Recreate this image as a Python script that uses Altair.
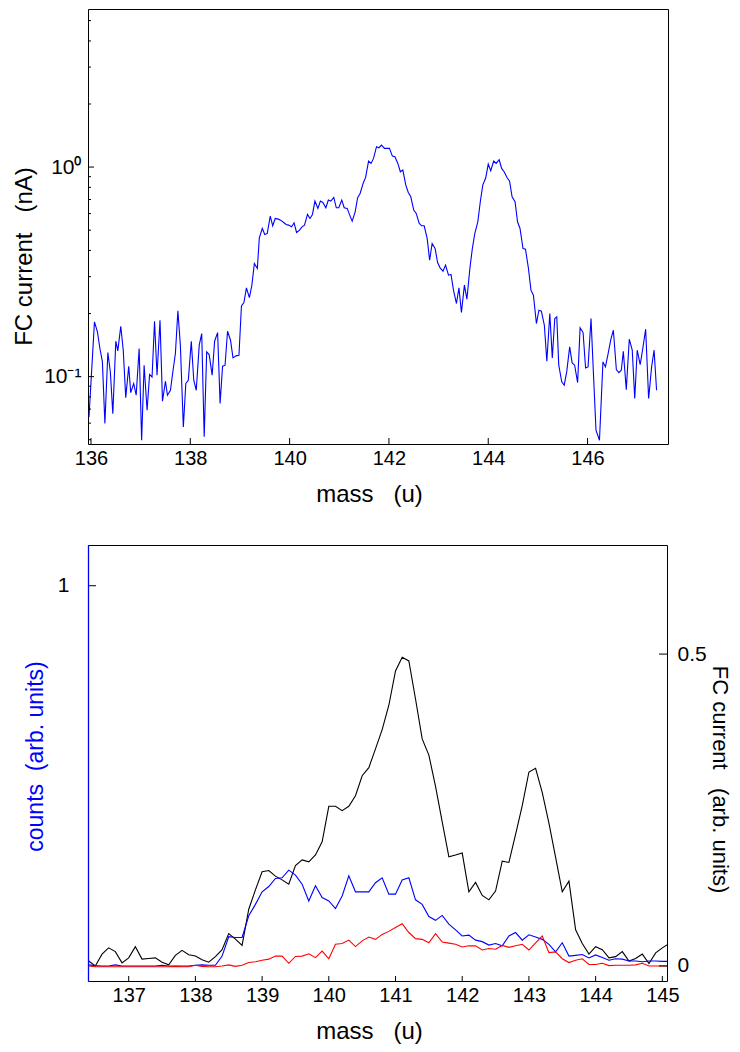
import altair as alt
import pandas as pd

FONT = "Liberation Sans"

# ---------------- top panel data (FC current, nA, log scale) ----------------
top_mass = [
    135.96, 136.07, 136.13, 136.18, 136.23, 136.28, 136.34, 136.39, 136.44, 136.50,
    136.54, 136.60, 136.65, 136.70, 136.76, 136.80, 136.86, 136.91, 136.97, 137.02,
    137.07, 137.13, 137.18, 137.23, 137.28, 137.33, 137.39, 137.44, 137.50, 137.54,
    137.60, 137.65, 137.70, 137.75, 137.80, 137.86, 137.91, 137.96, 138.02, 138.07,
    138.12, 138.18, 138.23, 138.28, 138.33, 138.38, 138.44, 138.49, 138.55, 138.60,
    138.65, 138.70, 138.75, 138.81, 138.86, 138.92, 138.98, 139.03, 139.08, 139.13,
    139.19, 139.24, 139.29, 139.35, 139.39, 139.45, 139.50, 139.55, 139.61, 139.66,
    139.71, 139.77, 139.82, 139.88, 139.93, 139.98, 140.04, 140.09, 140.14, 140.20,
    140.25, 140.30, 140.36, 140.41, 140.46, 140.51, 140.57, 140.62, 140.67, 140.73,
    140.78, 140.83, 140.89, 140.94, 140.99, 141.05, 141.10, 141.16, 141.21, 141.26,
    141.32, 141.37, 141.42, 141.48, 141.53, 141.59, 141.64, 141.69, 141.75, 141.80,
    141.85, 141.91, 141.96, 142.01, 142.07, 142.12, 142.18, 142.23, 142.28, 142.34,
    142.39, 142.44, 142.50, 142.55, 142.61, 142.66, 142.71, 142.77, 142.82, 142.87,
    142.93, 142.98, 143.03, 143.09, 143.14, 143.20, 143.25, 143.30, 143.36, 143.41,
    143.46, 143.52, 143.57, 143.63, 143.68, 143.73, 143.79, 143.84, 143.89, 143.95,
    144.00, 144.05, 144.11, 144.16, 144.22, 144.27, 144.32, 144.38, 144.43, 144.48,
    144.54, 144.59, 144.64, 144.70, 144.75, 144.81, 144.86, 144.91, 144.97, 145.02,
    145.07, 145.13, 145.18, 145.24, 145.29, 145.34, 145.38, 145.42, 145.48, 145.53,
    145.58, 145.64, 145.69, 145.74, 145.80, 145.85, 145.91, 145.96, 146.01, 146.07,
    146.12, 146.17, 146.24, 146.31, 146.36, 146.41, 146.47, 146.52, 146.58, 146.63,
    146.68, 146.72, 146.78, 146.84, 146.90, 146.95, 147.00, 147.06, 147.11, 147.17,
    147.23, 147.29, 147.34, 147.39,
]
top_fc = [
    0.0642, 0.1825, 0.1635, 0.1362, 0.1176, 0.0597, 0.1303, 0.1053, 0.0666, 0.1476,
    0.1327, 0.1740, 0.1337, 0.0794, 0.1121, 0.0839, 0.0927, 0.0815, 0.1362, 0.0497,
    0.1134, 0.0691, 0.1023, 0.0997, 0.1839, 0.1016, 0.1859, 0.0763, 0.0951, 0.0815,
    0.0861, 0.1061, 0.1289, 0.2060, 0.1413, 0.0575, 0.0927, 0.0961, 0.1476, 0.0961,
    0.0861, 0.1413, 0.1606, 0.0516, 0.1312, 0.1274, 0.1016, 0.1476, 0.1623, 0.0744,
    0.1121, 0.1134, 0.1647, 0.1492, 0.1229, 0.1256, 0.1265, 0.2177, 0.2258, 0.2653,
    0.2384, 0.2732, 0.3467, 0.3281, 0.4598, 0.5095, 0.4770, 0.4823, 0.5834, 0.5246,
    0.5686, 0.5644, 0.5581, 0.5441, 0.5322, 0.5284, 0.5188, 0.5421, 0.4875, 0.5001,
    0.5188, 0.5284, 0.5943, 0.5686, 0.5943, 0.6883, 0.6349, 0.6883, 0.6780, 0.6395,
    0.6960, 0.6883, 0.7167, 0.6395, 0.6395, 0.6960, 0.6395, 0.6349, 0.5899, 0.5521,
    0.6118, 0.7141, 0.7485, 0.8356, 0.8929, 1.068, 1.041, 1.100, 1.251, 1.237,
    1.274, 1.228, 1.228, 1.228, 1.128, 1.120, 1.041, 0.950, 0.968, 0.8204,
    0.7568, 0.7216, 0.6232, 0.6007, 0.5382, 0.5246, 0.5246, 0.4564, 0.3596, 0.4318,
    0.4088, 0.3505, 0.3305, 0.3187, 0.3404, 0.3049, 0.3071, 0.2586, 0.2233, 0.2653,
    0.2022, 0.2732, 0.2342, 0.3281, 0.4088, 0.4823, 0.5482, 0.6831, 0.8204, 0.8895,
    1.033, 0.9605, 1.068, 1.041, 1.084, 0.9854, 0.950, 0.8895, 0.857, 0.7216,
    0.6831, 0.5482, 0.5095, 0.4088, 0.4058, 0.3281, 0.2586, 0.2447, 0.1792, 0.2075,
    0.2052, 0.1759, 0.1185, 0.2000, 0.1229, 0.1894, 0.1929, 0.1134, 0.0944, 0.0910,
    0.1053, 0.1387, 0.1163, 0.1134, 0.0937, 0.1709, 0.1623, 0.1101, 0.1113, 0.1894,
    0.1016, 0.0555, 0.0497, 0.1176, 0.1113, 0.1274, 0.1509, 0.1665, 0.1081, 0.1045,
    0.1073, 0.1322, 0.0867, 0.1509, 0.1337, 0.0786, 0.1337, 0.1142, 0.1351, 0.1684,
    0.0786, 0.1113, 0.1337, 0.0861,
]
top_xticks = [136, 138, 140, 142, 144, 146]
top_ymajor = [0.1, 1]
top_yminor = [0.05, 0.06, 0.07, 0.08, 0.09, 0.2, 0.3, 0.4, 0.5, 0.6, 0.7, 0.8, 0.9, 2, 3, 4, 5]

# ---------------- bottom panel data ----------------
bot_mass = [
    136.4, 136.5, 136.6, 136.7, 136.8, 136.9, 137.0, 137.1, 137.2, 137.3,
    137.4, 137.5, 137.6, 137.7, 137.8, 137.9, 138.0, 138.1, 138.2, 138.3,
    138.4, 138.5, 138.6, 138.7, 138.8, 138.9, 139.0, 139.1, 139.2, 139.3,
    139.4, 139.5, 139.6, 139.7, 139.8, 139.9, 140.0, 140.1, 140.2, 140.3,
    140.4, 140.5, 140.6, 140.7, 140.8, 140.9, 141.0, 141.1, 141.2, 141.3,
    141.4, 141.5, 141.6, 141.7, 141.8, 141.9, 142.0, 142.1, 142.2, 142.3,
    142.4, 142.5, 142.6, 142.7, 142.8, 142.9, 143.0, 143.1, 143.2, 143.3,
    143.4, 143.5, 143.6, 143.7, 143.8, 143.9, 144.0, 144.1, 144.2, 144.3,
    144.4, 144.5, 144.6, 144.7, 144.8, 144.9, 145.0, 145.1,
]
# FC current (arb. units), right axis
bot_fc = [
    0.008, 0.000, 0.019, 0.029, 0.023, 0.005, 0.013, 0.031, 0.011, 0.012,
    0.013, 0.006, 0.002, 0.017, 0.025, 0.018, 0.016, 0.010, 0.006, 0.015,
    0.026, 0.052, 0.043, 0.033, 0.091, 0.122, 0.151, 0.153, 0.144, 0.138,
    0.131, 0.161, 0.170, 0.167, 0.178, 0.199, 0.256, 0.256, 0.249, 0.256,
    0.273, 0.305, 0.318, 0.348, 0.379, 0.418, 0.473, 0.495, 0.489, 0.428,
    0.364, 0.338, 0.288, 0.231, 0.175, 0.178, 0.181, 0.119, 0.134, 0.113,
    0.106, 0.120, 0.168, 0.166, 0.211, 0.257, 0.311, 0.317, 0.278, 0.229,
    0.174, 0.119, 0.136, 0.058, 0.036, 0.019, 0.031, 0.026, 0.013, 0.015,
    0.023, 0.008, 0.012, 0.019, 0.004, 0.021, 0.029, 0.036,
]
# counts (arb. units), left axis - blue series
bot_blue = [
    0.003, 0.001, 0.000, 0.000, 0.003, 0.000, 0.000, 0.000, 0.000, 0.000,
    0.000, 0.002, 0.000, 0.000, 0.000, 0.000, 0.002, 0.003, 0.002, 0.002,
    0.026, 0.077, 0.075, 0.075, 0.132, 0.162, 0.195, 0.209, 0.230, 0.232,
    0.252, 0.239, 0.215, 0.171, 0.211, 0.180, 0.171, 0.151, 0.184, 0.237,
    0.195, 0.195, 0.195, 0.219, 0.232, 0.189, 0.189, 0.226, 0.232, 0.174,
    0.162, 0.130, 0.120, 0.133, 0.110, 0.095, 0.079, 0.081, 0.068, 0.064,
    0.055, 0.059, 0.053, 0.079, 0.088, 0.068, 0.082, 0.076, 0.070, 0.057,
    0.037, 0.061, 0.026, 0.028, 0.030, 0.021, 0.029, 0.022, 0.015, 0.019,
    0.018, 0.013, 0.013, 0.011, 0.013, 0.013, 0.012, 0.012,
]
# counts (arb. units), left axis - red series
bot_red = [
    0.000, -0.002, -0.002, -0.002, -0.002, -0.002, -0.002, -0.002, -0.002, -0.002,
    -0.002, -0.002, -0.002, -0.001, -0.002, -0.002, 0.002, -0.001, -0.002, -0.002,
    0.000, 0.003, -0.001, 0.002, 0.009, 0.011, 0.015, 0.018, 0.026, 0.026,
    0.007, 0.025, 0.026, 0.032, 0.022, 0.039, 0.019, 0.057, 0.059, 0.068,
    0.051, 0.066, 0.076, 0.070, 0.083, 0.091, 0.101, 0.111, 0.088, 0.072,
    0.070, 0.061, 0.085, 0.063, 0.060, 0.057, 0.050, 0.053, 0.053, 0.042,
    0.046, 0.044, 0.054, 0.049, 0.053, 0.057, 0.042, 0.061, 0.079, 0.035,
    0.037, 0.019, 0.009, 0.015, 0.019, 0.004, 0.004, 0.007, 0.001, 0.002,
    0.002, 0.002, 0.003, 0.007, 0.000, 0.000, 0.000, 0.000,
]
bot_xticks = [137, 138, 139, 140, 141, 142, 143, 144, 145]
bot_left_ticks = [1]
bot_right_ticks = [0, 0.5]

# ---------------- layout constants ----------------
W = 580
H1 = 435
H2 = 436
BLUE = "#0000ff"
SP = "\u00a0"

# ================= TOP PANEL =================
top_df = pd.DataFrame({"mass": top_mass, "fc": top_fc})
xs_top = alt.Scale(domain=[135.94, 147.62], nice=False, zero=False)
ys_top = alt.Scale(type="log", domain=[0.0477, 5.68], nice=False)

top_xaxis = alt.Axis(
    values=top_xticks, format="d", ticks=False, tickSize=0, domain=False, grid=False,
    labelFontSize=20, labelPadding=4, labelFlush=False, labelOverlap=False,
    title="mass" + SP * 3 + "(u)", titleFontSize=24, titleX=281, titleY=50,
    titleAlign="center", titleBaseline="middle")
top_yaxis = alt.Axis(
    values=top_ymajor, labelExpr="datum.value >= 1 ? '10\u2070' : '10\u207b\u00b9'",
    ticks=False, tickSize=0, domain=False, grid=False,
    labelFontSize=21, labelPadding=7, labelFlush=False, labelOverlap=False,
    title="FC current" + SP * 3 + "(nA)", titleFontSize=24, titleAngle=270,
    titleX=-64, titleY=247, titleAlign="center", titleBaseline="middle")

top_line = alt.Chart(top_df).mark_line(color=BLUE, strokeWidth=1.1, clip=True).encode(
    x=alt.X("mass:Q", scale=xs_top, axis=top_xaxis),
    y=alt.Y("fc:Q", scale=ys_top, axis=top_yaxis),
)
top_xt = alt.Chart(pd.DataFrame({"t": top_xticks})).mark_rule(color="black", strokeWidth=1).encode(
    x=alt.X("t:Q", scale=xs_top, axis=top_xaxis), y=alt.value(H1), y2=alt.value(H1 - 6))
top_yt = alt.Chart(pd.DataFrame({"t": top_ymajor})).mark_rule(color="black", strokeWidth=1).encode(
    y=alt.Y("t:Q", scale=ys_top, axis=top_yaxis), x=alt.value(0), x2=alt.value(6))
top_ym = alt.Chart(pd.DataFrame({"t": top_yminor})).mark_rule(color="black", strokeWidth=1).encode(
    y=alt.Y("t:Q", scale=ys_top, axis=top_yaxis), x=alt.value(0), x2=alt.value(3))

top = alt.layer(top_line, top_xt, top_yt, top_ym).properties(width=W, height=H1)

# ================= BOTTOM PANEL =================
bot_df = pd.DataFrame({"mass": bot_mass, "fc": bot_fc, "blue": bot_blue, "red": bot_red})
xs_bot = alt.Scale(domain=[136.39, 145.07], nice=False, zero=False)
yl = alt.Scale(domain=[-0.0395, 1.1071], nice=False, zero=False)
yr = alt.Scale(domain=[-0.0241, 0.6749], nice=False, zero=False)

xaxis_bot = alt.Axis(
    values=bot_xticks, format="d", ticks=False, tickSize=0, domain=False, grid=False,
    labelFontSize=20, labelPadding=4, labelFlush=False, labelOverlap=False,
    title="mass" + SP * 3 + "(u)", titleFontSize=24, titleX=281, titleY=50,
    titleAlign="center", titleBaseline="middle")

blue_line = alt.Chart(bot_df).mark_line(color=BLUE, strokeWidth=1.1, clip=True).encode(
    x=alt.X("mass:Q", scale=xs_bot, axis=xaxis_bot),
    y=alt.Y("blue:Q", scale=yl, axis=alt.Axis(
        orient="left", values=bot_left_ticks, labelExpr="'1'",
        ticks=False, tickSize=0, domain=True, domainColor=BLUE, domainWidth=1.3,
        grid=False, zindex=1, labelFontSize=21, labelPadding=19,
        title="counts" + SP * 2 + "(arb. units)", titleColor=BLUE, titleFontSize=23,
        titleAngle=270, titleX=-53, titleY=211, titleAlign="center", titleBaseline="middle")),
)
red_line = alt.Chart(bot_df).mark_line(color="#ff0000", strokeWidth=1.1, clip=True).encode(
    x=alt.X("mass:Q", scale=xs_bot, axis=xaxis_bot),
    y=alt.Y("red:Q", scale=yl, axis=None),
)
black_line = alt.Chart(bot_df).mark_line(color="black", strokeWidth=1.1, clip=True).encode(
    x=alt.X("mass:Q", scale=xs_bot, axis=xaxis_bot),
    y=alt.Y("fc:Q", scale=yr, axis=alt.Axis(
        orient="right", values=bot_right_ticks, labelExpr="datum.value == 0 ? '0' : '0.5'",
        ticks=False, tickSize=0, domain=False, grid=False,
        labelFontSize=21, labelPadding=10, labelFlush=False, labelOverlap=False,
        title="FC current" + SP * 3 + "(arb. units)", titleFontSize=22, titleAngle=90,
        titleX=52, titleY=234, titleAlign="center", titleBaseline="middle")),
)
bot_xt = alt.Chart(pd.DataFrame({"t": bot_xticks})).mark_rule(color="black", strokeWidth=1).encode(
    x=alt.X("t:Q", scale=xs_bot, axis=xaxis_bot), y=alt.value(H2), y2=alt.value(H2 - 5))
bot_lt = alt.Chart(pd.DataFrame({"t": bot_left_ticks})).mark_rule(color="black", strokeWidth=1).encode(
    y=alt.Y("t:Q", scale=yl, axis=None), x=alt.value(0), x2=alt.value(8))
bot_rt = alt.Chart(pd.DataFrame({"t": bot_right_ticks})).mark_rule(color="black", strokeWidth=1).encode(
    y=alt.Y("t:Q", scale=yr, axis=None), x=alt.value(W - 1), x2=alt.value(W - 9))

bottom = alt.layer(black_line, blue_line, red_line, bot_xt, bot_lt, bot_rt).resolve_scale(
    y="independent").properties(width=W - 1, height=H2)

chart = alt.vconcat(top, bottom, spacing=37).properties(
    padding={"left": 3, "top": 0, "right": 0, "bottom": 0}
).configure_view(stroke="black", strokeWidth=1).configure_axis(
    labelFont=FONT, titleFont=FONT, labelColor="black", titleColor="black",
    titleFontWeight="normal"
)

chart.save("out.html", embed_options={"renderer": "svg", "actions": False})
